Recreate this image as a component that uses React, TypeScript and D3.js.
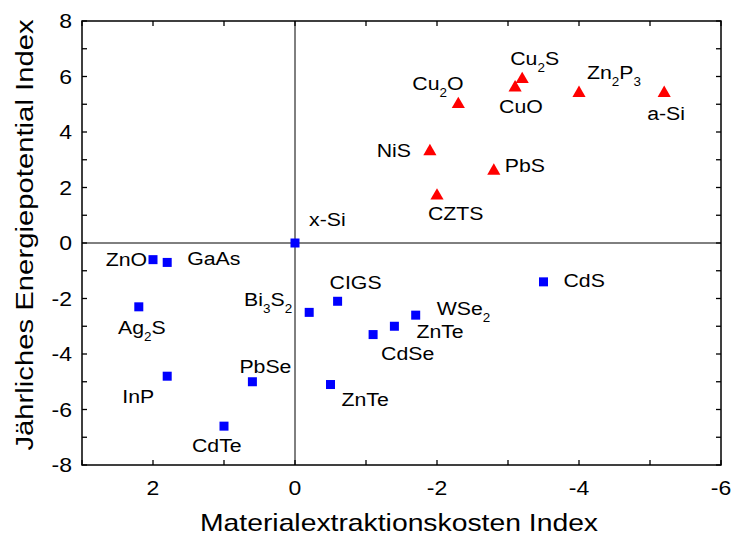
import React from "react";
import * as d3 from "d3";

// ---- data ----
const blueNames = ["x-Si", "ZnO", "GaAs", "Ag₂S", "InP", "PbSe", "CdTe", "Bi₃S₂", "CIGS", "ZnTe", "CdSe", "ZnTe", "WSe₂", "CdS"];
const blueX = [0, 2.0, 1.8, 2.2, 1.8, 0.6, 1.0, -0.2, -0.6, -0.5, -1.1, -1.4, -1.7, -3.5];
const blueY = [0, -0.6, -0.7, -2.3, -4.8, -5.0, -6.6, -2.5, -2.1, -5.1, -3.3, -3.0, -2.6, -1.4];

const redNames = ["Cu₂O", "Cu₂S", "CuO", "Zn₂P₃", "a-Si", "NiS", "PbS", "CZTS"];
const redX = [-2.3, -3.2, -3.1, -4.0, -5.2, -1.9, -2.8, -2.0];
const redY = [5.0, 5.9, 5.6, 5.4, 5.4, 3.3, 2.6, 1.7];

const xTicks = [2, 0, -2, -4, -6];
const yTicks = [-8, -6, -4, -2, 0, 2, 4, 6, 8];
const xTitle = "Materialextraktionskosten Index";
const yTitle = "Jährliches Energiepotential Index";

// label placement (pixel offsets from the marker, anchor)
const blueLabelPos: [number, number, string][] = [
  [14, -17, "start"], [-6, 6, "end"], [20, 3, "start"], [3, 27, "middle"], [-13, 27, "end"],
  [-13, -9, "start"], [-32, 26, "start"], [-17, -6, "end"], [-8, -12, "start"], [11, 21, "start"],
  [8, 25, "start"], [22, 12, "start"], [21, 0, "start"], [20, 5, "start"],
];
const redLabelPos: [number, number, string][] = [
  [-46, -14, "start"], [-12, -14, "start"], [-16, 25, "start"], [8, -14, "start"],
  [-17, 27, "start"], [-19, 6, "end"], [11, 1, "start"], [-9, 24, "start"],
];

const W = 731, H = 539;
const M = { left: 82, right: 721, top: 21, bottom: 465 };
const FONT = "'Liberation Sans', Arial, sans-serif";
const LABEL_SX = 1.12;
const TICK_SX = 1.15;

function Label({ text, x, y, anchor }: { text: string; x: number; y: number; anchor: string }) {
  const parts: { t: string; sub: boolean }[] = [];
  const subMap: Record<string, string> = { "₀": "0", "₁": "1", "₂": "2", "₃": "3" };
  for (const ch of text) {
    const sub = ch in subMap;
    const c = sub ? subMap[ch] : ch;
    const last = parts[parts.length - 1];
    if (last && last.sub === sub) last.t += c;
    else parts.push({ t: c, sub });
  }
  return (
    <g transform={`translate(${x},${y}) scale(${LABEL_SX},1)`}>
      <text x={0} y={0} textAnchor={anchor as any} fontSize={19} fontFamily={FONT} fill="#000">
        {parts.map((p, i) =>
          p.sub ? (
            <tspan key={i} fontSize={12} dy={7}>{p.t}</tspan>
          ) : (
            <tspan key={i} dy={i > 0 && parts[i - 1].sub ? -7 : 0}>{p.t}</tspan>
          )
        )}
      </text>
    </g>
  );
}

export default function App() {
  const x = d3.scaleLinear().domain([3, -6]).range([M.left, M.right]);
  const y = d3.scaleLinear().domain([-8, 8]).range([M.bottom, M.top]);
  const xMinor = d3.range(3, -6.01, -1);
  const yMinor = d3.range(-8, 8.01, 1);
  const tri = d3.symbol().type(d3.symbolTriangle).size(75)();
  const tickLen = 5;

  return (
    <svg width={W} height={H} style={{ position: "absolute", left: 0, top: 0, background: "#fff" }}>
      {/* zero lines */}
      <line x1={x(0)} x2={x(0)} y1={M.top} y2={M.bottom} stroke="#000" strokeWidth={1} />
      <line x1={M.left} x2={M.right} y1={y(0)} y2={y(0)} stroke="#000" strokeWidth={1} />

      {/* ticks inward */}
      {xMinor.map((v, i) => (
        <g key={"xt" + i}>
          <line x1={x(v)} x2={x(v)} y1={M.bottom} y2={M.bottom - tickLen} stroke="#000" strokeWidth={1.3} />
          <line x1={x(v)} x2={x(v)} y1={M.top} y2={M.top + tickLen} stroke="#000" strokeWidth={1.3} />
        </g>
      ))}
      {yMinor.map((v, i) => (
        <g key={"yt" + i}>
          <line x1={M.left} x2={M.left + tickLen} y1={y(v)} y2={y(v)} stroke="#000" strokeWidth={1.3} />
          <line x1={M.right} x2={M.right - tickLen} y1={y(v)} y2={y(v)} stroke="#000" strokeWidth={1.3} />
        </g>
      ))}
      {/* frame */}
      <rect x={M.left} y={M.top} width={M.right - M.left} height={M.bottom - M.top} fill="none" stroke="#000" strokeWidth={1.5} />

      {/* tick labels */}
      {xTicks.map((v) => (
        <g key={"xl" + v} transform={`translate(${x(v)},495) scale(${TICK_SX},1)`}>
          <text textAnchor="middle" fontSize={20} fontFamily={FONT}>{v}</text>
        </g>
      ))}
      {yTicks.map((v) => (
        <g key={"yl" + v} transform={`translate(72,${y(v) + 7}) scale(${TICK_SX},1)`}>
          <text textAnchor="end" fontSize={20} fontFamily={FONT}>{v}</text>
        </g>
      ))}

      {/* titles */}
      <g transform={`translate(399,531) scale(1.18,1)`}>
        <text textAnchor="middle" fontSize={24} fontFamily={FONT}>{xTitle}</text>
      </g>
      <g transform={`translate(33,235) rotate(-90) scale(1.22,1)`}>
        <text textAnchor="middle" fontSize={24} fontFamily={FONT}>{yTitle}</text>
      </g>

      {/* blue squares */}
      {blueX.map((v, i) => (
        <rect key={"b" + i} x={x(v) - 4.5} y={y(blueY[i]) - 4.5} width={9} height={9} fill="#0000ff" />
      ))}
      {/* red triangles */}
      {redX.map((v, i) => (
        <path key={"r" + i} d={tri as string} transform={`translate(${x(v)},${y(redY[i])})`} fill="#ff0000" />
      ))}

      {/* labels */}
      {blueNames.map((n, i) => (
        <Label key={"bl" + i} text={n} x={x(blueX[i]) + blueLabelPos[i][0]} y={y(blueY[i]) + blueLabelPos[i][1]} anchor={blueLabelPos[i][2]} />
      ))}
      {redNames.map((n, i) => (
        <Label key={"rl" + i} text={n} x={x(redX[i]) + redLabelPos[i][0]} y={y(redY[i]) + redLabelPos[i][1]} anchor={redLabelPos[i][2]} />
      ))}
    </svg>
  );
}
